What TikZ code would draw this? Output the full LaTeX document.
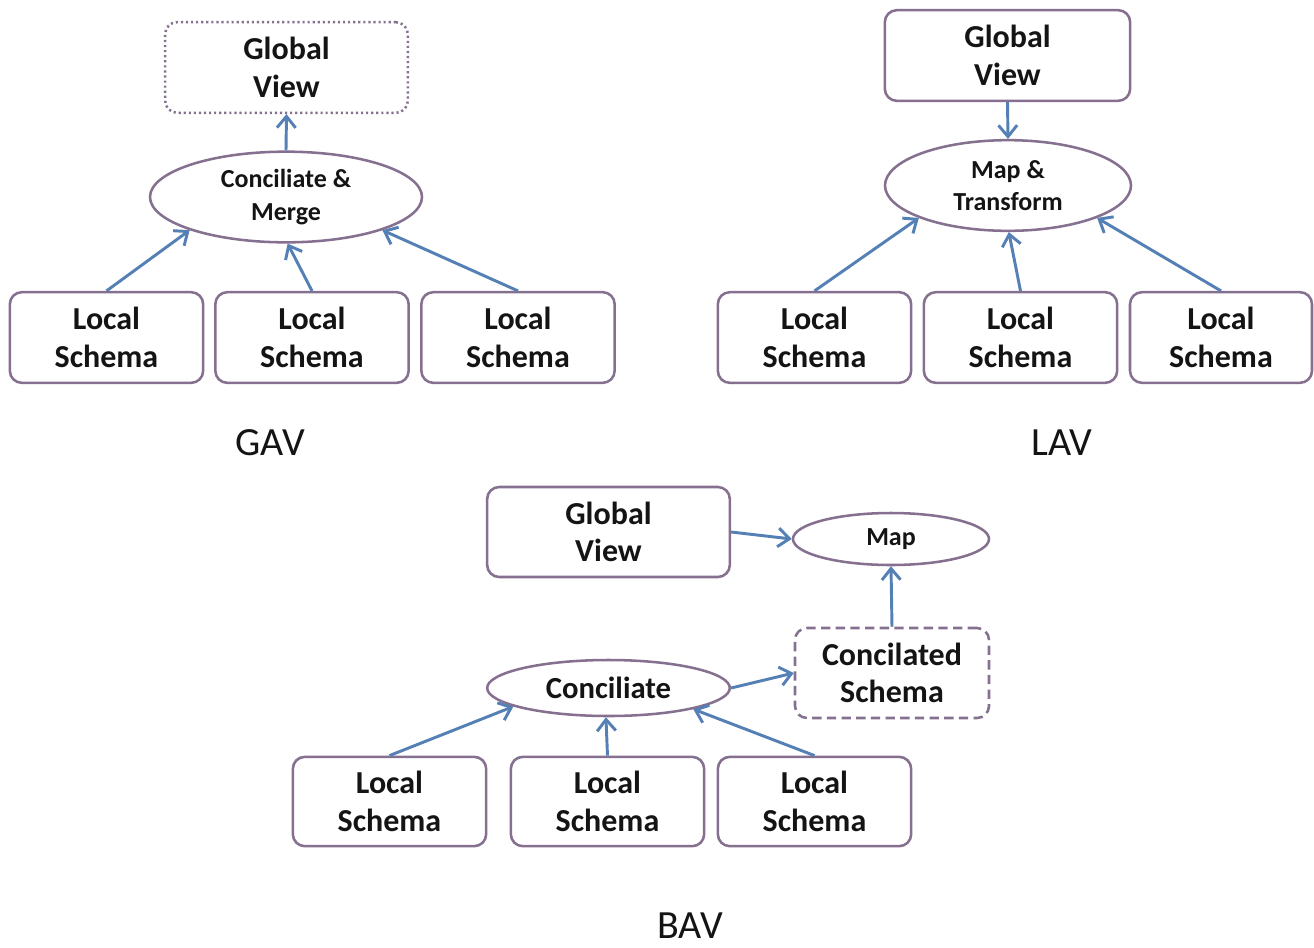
\documentclass[tikz,border=0pt]{standalone}
\usepackage{fontspec}
\setmainfont{Carlito}
\usetikzlibrary{shapes.geometric,arrows.meta}
\definecolor{bordc}{HTML}{86708F}
\definecolor{arrc}{HTML}{5480B6}
\definecolor{txtc}{HTML}{141414}
\tikzset{
  box/.style={draw=bordc, line width=1.9pt, rounded corners=9pt, align=center,
    minimum width=145pt, minimum height=68pt, inner sep=0pt, text=txtc,
    font=\bfseries\fontsize{24}{28}\selectfont},
  oval/.style={ellipse, draw=bordc, line width=1.9pt, align=center, inner sep=0pt, text=txtc,
    font=\bfseries\fontsize{19.5}{24.5}\selectfont},
  dotbox/.style={box, dash pattern=on 1.6pt off 2.2pt},
  dashbox/.style={box, dash pattern=on 7pt off 4pt},
  arr/.style={draw=arrc, line width=2.2pt, -{Straight Barb[length=8.5pt,width=14pt,line width=2.2pt]}},
  lbl/.style={font=\fontsize{30}{34}\selectfont, text=txtc},
}
\begin{document}
\begin{tikzpicture}[x=0.75pt,y=-0.75pt]
\useasboundingbox[fill=white] (0,0) rectangle (1314,947);
% GAV
\node[dotbox, minimum width=182pt] (gv1) at (286.5,67.5) {Global\\View};
\node[oval, minimum width=204pt, minimum height=68pt] (cm) at (286,197) {Conciliate \&\\Merge};
\node[box] (l1a) at (106.5,337.5) {Local\\Schema};
\node[box] (l1b) at (312,337.5) {Local\\Schema};
\node[box] (l1c) at (518,337.5) {Local\\Schema};
\draw[arr] (cm.north) -- (gv1.south);
\draw[arr] (l1a.north) -- (cm.199.5);
\draw[arr] (l1b.north) -- (cm.272);
\draw[arr] (l1c.north) -- (cm.341);
\node[lbl] (gav) at (270,443) {GAV};
% LAV
\node[box, minimum width=184pt] (gv2) at (1007.5,55.5) {Global\\View};
\node[oval, minimum width=184.5pt, minimum height=68pt] (mt) at (1008,185.5) {Map \&\\Transform};
\node[box] (l2a) at (814.5,337.5) {Local\\Schema};
\node[box] (l2b) at (1020.5,337.5) {Local\\Schema};
\node[box, minimum width=136.5pt] (l2c) at (1221,337.5) {Local\\Schema};
\draw[arr] (gv2.south) -- (mt.north);
\draw[arr] (l2a.north) -- (mt.200.3);
\draw[arr] (l2b.north) -- (mt.271);
\draw[arr] (l2c.north) -- (mt.340.5);
\node[lbl] (lav) at (1062,443) {LAV};
% BAV
\node[box, minimum width=182pt, minimum height=67.5pt] (gv3) at (608.5,532) {Global\\View};
\node[oval, minimum width=147pt, minimum height=39pt] (map) at (891,539) {Map};
\node[dashbox, minimum width=145.5pt, minimum height=67.5pt] (cs) at (892,673) {Concilated\\Schema};
\node[oval, minimum width=182pt, minimum height=42pt, font=\bfseries\fontsize{23}{27}\selectfont] (con) at (608.5,688) {Conciliate};
\node[box, minimum height=67pt] (l3a) at (389.5,801.5) {Local\\Schema};
\node[box, minimum height=67pt] (l3b) at (607.5,801.5) {Local\\Schema};
\node[box, minimum height=67pt] (l3c) at (814.5,801.5) {Local\\Schema};
\draw[arr] (gv3.east) -- (map.west);
\draw[arr] (cs.north) -- (map.south);
\draw[arr] (con.east) -- (cs.west);
\draw[arr] (l3a.north) -- (con.191.5);
\draw[arr] (l3b.north) -- (con.265);
\draw[arr] (l3c.north) -- (con.346);
\node[lbl] (bav) at (690,926) {BAV};
\end{tikzpicture}
\end{document}
